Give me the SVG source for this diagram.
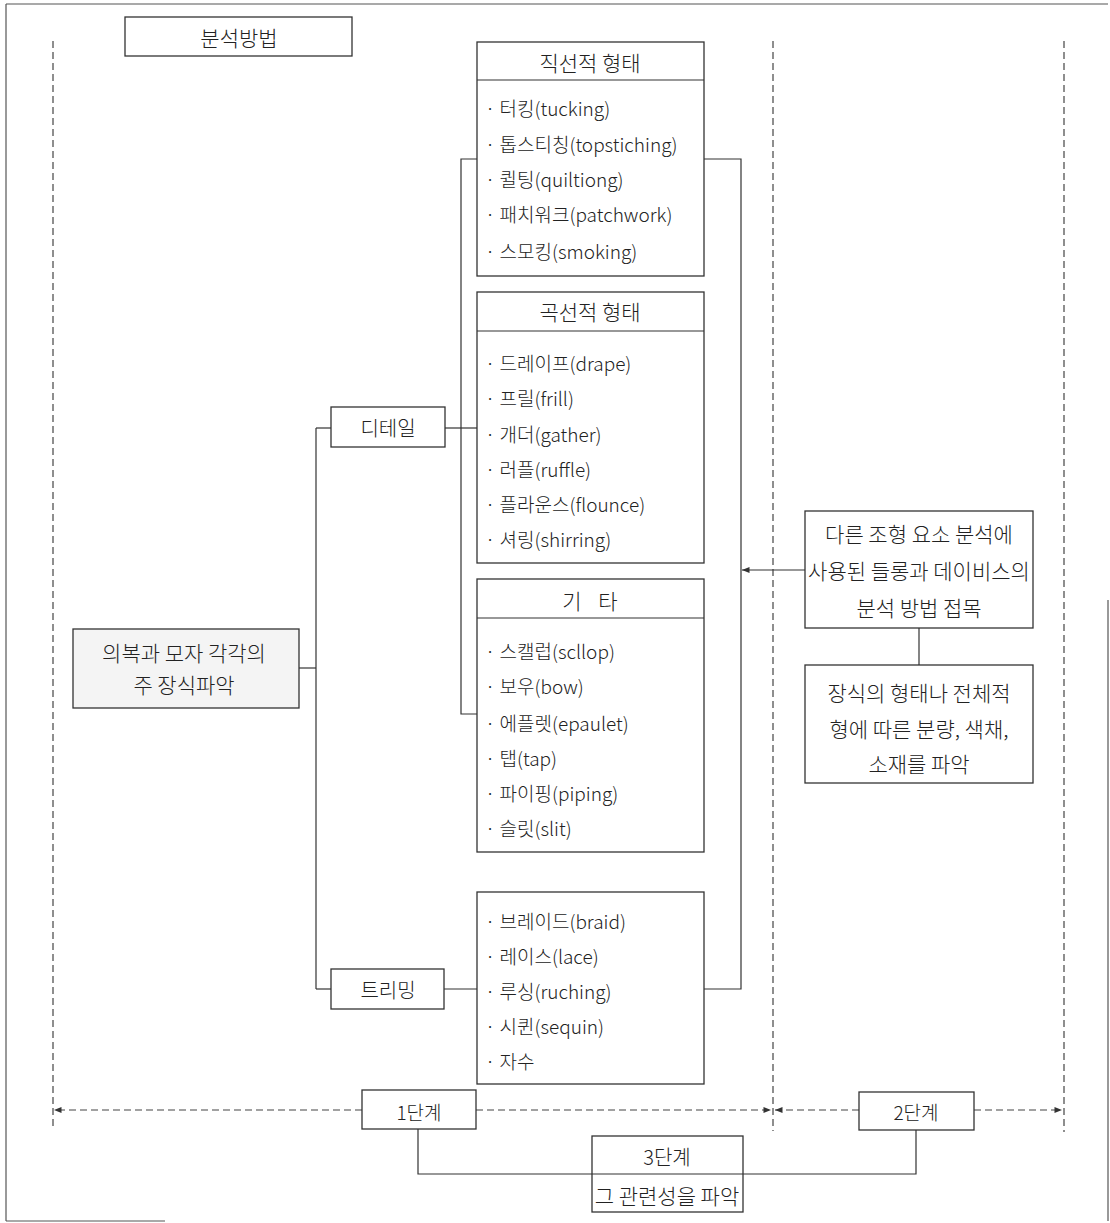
<svg xmlns="http://www.w3.org/2000/svg" width="1110" height="1223" viewBox="0 0 1110 1223">
<defs>
<style>
.bx{fill:#fff;stroke:#333;stroke-width:1.3}
.ln{fill:none;stroke:#333;stroke-width:1.2}
.dl{fill:none;stroke:#444;stroke-width:1.2;stroke-dasharray:7 4}
.fr{fill:none;stroke:#555;stroke-width:1.2}
text{font-family:"Noto Sans CJK KR","Noto Sans",sans-serif;font-size:19px;font-weight:300;fill:#222;dominant-baseline:central}
.c{text-anchor:middle}
.L{font-size:21px}
</style>
<marker id="ah" viewBox="0 0 10 8" refX="10" refY="4" markerWidth="8" markerHeight="6" orient="auto" markerUnits="userSpaceOnUse">
<path d="M0,0 L10,4 L0,8 z" fill="#333"/>
</marker>
</defs>
<rect width="1110" height="1223" fill="#fff"/>

<g id="frame">
<line class="fr" x1="6" y1="4" x2="1108" y2="4"/>
<line class="fr" x1="6" y1="4" x2="6" y2="1221"/>
<line class="fr" x1="6" y1="1221" x2="165" y2="1221"/>
<line class="fr" x1="1108" y1="600" x2="1108" y2="1221"/>
</g>

<g id="stage-dividers">
<line class="dl" x1="53" y1="41" x2="53" y2="1127"/>
<line class="dl" x1="773" y1="41" x2="773" y2="1131"/>
<line class="dl" x1="1064" y1="41" x2="1064" y2="1132"/>
</g>

<g id="connectors">
<line class="ln" x1="299" y1="668" x2="316" y2="668"/>
<line class="ln" x1="316" y1="428" x2="316" y2="989"/>
<line class="ln" x1="316" y1="428" x2="331" y2="428"/>
<line class="ln" x1="316" y1="989" x2="331" y2="989"/>
<line class="ln" x1="445" y1="428" x2="477" y2="428"/>
<polyline class="ln" points="477,159 461,159 461,714 477,714"/>
<line class="ln" x1="444" y1="989" x2="477" y2="989"/>
<polyline class="ln" points="704,159 741,159 741,989 704,989"/>
<line class="ln" x1="805" y1="570" x2="742" y2="570" marker-end="url(#ah)"/>
<line class="ln" x1="919" y1="628" x2="919" y2="665"/>
<polyline class="ln" points="418,1129 418,1174 916,1174 916,1130"/>
<line class="dl" x1="362" y1="1110" x2="54" y2="1110" marker-end="url(#ah)"/>
<line class="dl" x1="476" y1="1110" x2="771" y2="1110" marker-end="url(#ah)"/>
<line class="dl" x1="859" y1="1110" x2="775" y2="1110" marker-end="url(#ah)"/>
<line class="dl" x1="974" y1="1110" x2="1062" y2="1110" marker-end="url(#ah)"/>
</g>

<g id="title">
<rect class="bx" x="125" y="17" width="227" height="39"/>
<text class="c L" x="239" y="37">분석방법</text>
</g>

<g id="main">
<rect class="bx" x="73" y="629" width="226" height="79" style="fill:#f4f4f4"/>
<text class="c L" x="184" y="652">의복과 모자 각각의</text>
<text class="c L" x="184" y="684">주 장식파악</text>
</g>

<g id="detail">
<rect class="bx" x="331" y="407" width="114" height="40"/>
<text class="c" x="388" y="427" style="font-size:20px">디테일</text>
</g>

<g id="trimming">
<rect class="bx" x="331" y="969" width="113" height="40"/>
<text class="c" x="388" y="989" style="font-size:20px">트리밍</text>
</g>

<g id="linear">
<rect class="bx" x="477" y="42" width="227" height="234"/>
<line class="ln" x1="477" y1="80" x2="704" y2="80"/>
<text class="c L" x="590" y="62">직선적 형태</text>
<text x="485" y="107">· 터킹(tucking)</text>
<text x="485" y="143">· 톱스티칭(topstiching)</text>
<text x="485" y="178">· 퀼팅(quiltiong)</text>
<text x="485" y="213">· 패치워크(patchwork)</text>
<text x="485" y="250">· 스모킹(smoking)</text>
</g>

<g id="curved">
<rect class="bx" x="477" y="292" width="227" height="271"/>
<line class="ln" x1="477" y1="331" x2="704" y2="331"/>
<text class="c L" x="590" y="311">곡선적 형태</text>
<text x="485" y="362">· 드레이프(drape)</text>
<text x="485" y="397">· 프릴(frill)</text>
<text x="485" y="433">· 개더(gather)</text>
<text x="485" y="468">· 러플(ruffle)</text>
<text x="485" y="503">· 플라운스(flounce)</text>
<text x="485" y="538">· 셔링(shirring)</text>
</g>

<g id="etc">
<rect class="bx" x="477" y="579" width="227" height="273"/>
<line class="ln" x1="477" y1="618" x2="704" y2="618"/>
<text class="c L" x="590" y="600" word-spacing="12">기 타</text>
<text x="485" y="650">· 스캘럽(scllop)</text>
<text x="485" y="685">· 보우(bow)</text>
<text x="485" y="722">· 에플렛(epaulet)</text>
<text x="485" y="757">· 탭(tap)</text>
<text x="485" y="792">· 파이핑(piping)</text>
<text x="485" y="827">· 슬릿(slit)</text>
</g>

<g id="trim-items">
<rect class="bx" x="477" y="892" width="227" height="192"/>
<text x="485" y="920">· 브레이드(braid)</text>
<text x="485" y="955">· 레이스(lace)</text>
<text x="485" y="990">· 루싱(ruching)</text>
<text x="485" y="1025">· 시퀸(sequin)</text>
<text x="485" y="1060">· 자수</text>
</g>

<g id="method">
<rect class="bx" x="805" y="511" width="228" height="117"/>
<text class="c L" x="919" y="533">다른 조형 요소 분석에</text>
<text class="c L" x="919" y="570">사용된 들롱과 데이비스의</text>
<text class="c L" x="919" y="607">분석 방법 접목</text>
</g>

<g id="analysis">
<rect class="bx" x="805" y="665" width="228" height="118"/>
<text class="c L" x="919" y="692">장식의 형태나 전체적</text>
<text class="c L" x="919" y="728">형에 따른 분량, 색채,</text>
<text class="c L" x="919" y="763">소재를 파악</text>
</g>

<g id="stage1">
<rect class="bx" x="362" y="1090" width="114" height="39"/>
<text class="c" x="419" y="1111">1단계</text>
</g>

<g id="stage2">
<rect class="bx" x="859" y="1092" width="115" height="38"/>
<text class="c" x="916" y="1111">2단계</text>
</g>

<g id="stage3">
<rect class="bx" x="592" y="1136" width="151" height="76"/>
<line class="ln" x1="592" y1="1174" x2="743" y2="1174"/>
<text class="c" x="667" y="1156" style="font-size:20px">3단계</text>
<text class="c L" x="667" y="1195">그 관련성을 파악</text>
</g>
</svg>
